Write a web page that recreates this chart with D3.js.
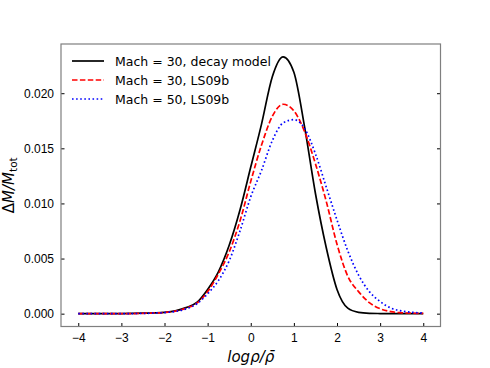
<!DOCTYPE html>
<html>
<head>
<meta charset="utf-8">
<script src="https://cdn.jsdelivr.net/npm/d3@7"></script>
<style>
  body { margin: 0; background: #fff; }
  svg { font-family: "DejaVu Sans", sans-serif; }
  .axis path { display: none; }
  .axis line { stroke: #000; }
  .axis text { font-size: 12px; fill: #000; }
</style>
</head>
<body>
<div id="chart_div"></div>
<script>
//----------------------------DATA-------------------------------//
const logRho = [-4, -3.75, -3.5, -3.25, -3, -2.75, -2.5, -2.25, -2, -1.75, -1.5, -1.25,
  -1, -0.75, -0.5, -0.25, 0, 0.25, 0.5, 0.75, 1, 1.25, 1.5, 1.75,
  2, 2.25, 2.5, 2.75, 3, 3.25, 3.5, 3.75, 4];

const decay30 = [0, 0, 0, 0, 0.00001, 0.00002, 0.00004, 0.00007, 0.00012, 0.00025, 0.00055, 0.00102,
  0.0022, 0.0038, 0.0062, 0.0094, 0.0133, 0.0172, 0.0215, 0.0233, 0.0219, 0.0169, 0.0109, 0.0060,
  0.0022, 0.0005, 0.00012, 0.00003, 0.00001, 0, 0, 0, 0];

const ls30 = [0, 0, 0, 0, 0, 0.00001, 0.00003, 0.00006, 0.00011, 0.00023, 0.0005, 0.00095,
  0.0020, 0.0036, 0.0056, 0.0084, 0.0120, 0.0153, 0.0179, 0.0190, 0.0184, 0.0165, 0.0136, 0.0102,
  0.0063, 0.0034, 0.0020, 0.0010, 0.00045, 0.00018, 0.00008, 0.00004, 0.00002];

const ls50 = [0, 0, 0, 0, 0, 0.00001, 0.00002, 0.00005, 0.0001, 0.0002, 0.00043, 0.0009,
  0.0018, 0.0030, 0.0048, 0.0075, 0.0106, 0.0130, 0.0157, 0.0173, 0.0176, 0.0168, 0.0145, 0.0115,
  0.0085, 0.0057, 0.0035, 0.0020, 0.0011, 0.0005, 0.00025, 0.00012, 0.00006];

const seriesNames = ["Mach = 30, decay model", "Mach = 30, LS09b", "Mach = 50, LS09b"];
const xTicks = [-4, -3, -2, -1, 0, 1, 2, 3, 4];
const yTicks = [0, 0.005, 0.01, 0.015, 0.02];

//----------------------------SVG--------------------------------//
const W = 490, H = 368;
const padL = 61, padR = 440.5, padT = 44, padB = 326.5;

const svg = d3.select("#chart_div").append("svg")
  .attr("width", W)
  .attr("height", H);

//---------------------------SCALES------------------------------//
const xScale = d3.scaleLinear().domain([-4.4, 4.4]).range([padL, padR]);
const yScale = d3.scaleLinear().domain([-0.001165, 0.024465]).range([padB, padT]);

//----------------------------AXES-------------------------------//
const fmtX = v => (v < 0 ? "\u2212" + Math.abs(v) : String(v));

const xaxis = d3.axisBottom(xScale)
  .tickValues(xTicks)
  .tickFormat(fmtX)
  .tickSizeInner(-3.5)
  .tickSizeOuter(0)
  .tickPadding(7);

const yaxis = d3.axisLeft(yScale)
  .tickValues(yTicks)
  .tickFormat(d3.format(".3f"))
  .tickSizeInner(-3.5)
  .tickSizeOuter(0)
  .tickPadding(7);

const yaxisR = d3.axisRight(yScale)
  .tickValues(yTicks)
  .tickFormat("")
  .tickSizeInner(-3.5)
  .tickSizeOuter(0);

svg.append("g")
  .attr("class", "axis axis-x")
  .attr("transform", "translate(0," + padB + ")")
  .call(xaxis);

svg.append("g")
  .attr("class", "axis axis-y")
  .attr("transform", "translate(" + padL + ",0)")
  .call(yaxis);

svg.append("g")
  .attr("class", "axis axis-y2")
  .attr("transform", "translate(" + padR + ",0)")
  .call(yaxisR);

//----------------------------LINES------------------------------//
const series = [
  { name: seriesNames[0], values: decay30, color: "#000000", dash: null },
  { name: seriesNames[1], values: ls30, color: "#ff0000", dash: "5.5,2.4" },
  { name: seriesNames[2], values: ls50, color: "#0000ff", dash: "1.6,2.5" }
];

const line = d3.line()
  .x((d, i) => xScale(logRho[i]))
  .y(d => yScale(d))
  .curve(d3.curveMonotoneX);

svg.append("g")
  .attr("class", "lines")
  .selectAll("path")
  .data(series)
  .enter()
  .append("path")
  .attr("d", d => line(d.values))
  .attr("fill", "none")
  .attr("stroke", d => d.color)
  .attr("stroke-width", 1.7)
  .attr("stroke-dasharray", d => d.dash);

// frame
svg.append("rect")
  .attr("x", padL)
  .attr("y", padT)
  .attr("width", padR - padL)
  .attr("height", padB - padT)
  .attr("fill", "none")
  .attr("stroke", "#7f7f7f")
  .attr("stroke-width", 1.2);

//---------------------------LEGEND------------------------------//
const legend = svg.append("g").attr("class", "legend");
series.forEach((s, i) => {
  const y = 61 + i * 19;
  legend.append("line")
    .attr("x1", 72).attr("x2", 104)
    .attr("y1", y).attr("y2", y)
    .attr("stroke", s.color)
    .attr("stroke-width", 1.7)
    .attr("stroke-dasharray", s.dash);
  legend.append("text")
    .attr("x", 115)
    .attr("y", y + 4.5)
    .attr("font-size", 12.5)
    .text(s.name);
});

//---------------------------LABELS------------------------------//
const xl = svg.append("text")
  .attr("x", (padL + padR) / 2)
  .attr("y", 362)
  .attr("text-anchor", "middle")
  .attr("font-size", 15)
  .attr("font-style", "italic");
xl.append("tspan").text("log\u03C1/\u03C1\u0304");

const yl = svg.append("text")
  .attr("transform", "translate(14," + ((padT + padB) / 2) + ") rotate(-90)")
  .attr("text-anchor", "middle")
  .attr("font-size", 15);
yl.append("tspan").text("\u0394");
yl.append("tspan").attr("font-style", "italic").text("M/M");
yl.append("tspan").attr("font-size", 10.5).attr("dy", 3).text("tot");
</script>
</body>
</html>
